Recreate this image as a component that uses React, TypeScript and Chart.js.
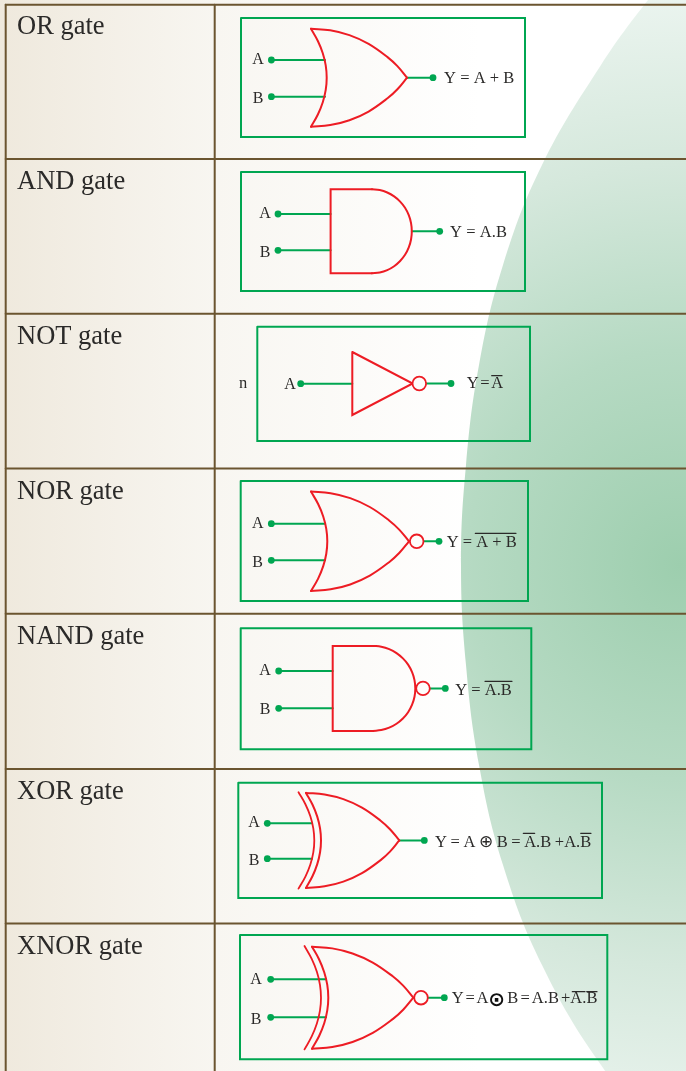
import React, { useEffect, useRef } from "react";
import { Chart, registerables } from "chart.js";

Chart.register(...registerables);

const W = 686;
const H = 1071;

// row titles
const GATE_NAMES = ["OR gate", "AND gate", "NOT gate", "NOR gate", "NAND gate", "XOR gate", "XNOR gate"];
const NAME_BASE = [34, 188.5, 343.5, 498.5, 643.5, 798.5, 953.5];

// table rules
const RULE_Y = [4.7, 159, 313.7, 468.5, 613.7, 769, 923.5];
const RULE_X = [5.7, 214.7];

// diagram boxes
const BOX_L = [241, 241, 257.3, 240.7, 240.7, 238.3, 240];
const BOX_R = [525, 525, 530, 528, 531.3, 602, 607.3];
const BOX_T = [18, 172, 326.7, 481, 628.3, 782.7, 935];
const BOX_B = [137, 291, 441, 601, 749.3, 898, 1059.3];

// gate bodies
const BODY_L = [311, 330.6, 352.3, 311, 332.7, 306, 312];
const BODY_R = [407, 411.8, 412.7, 409, 415.3, 399.3, 413.3];
const MID = [77.7, 231.3, 383.5, 541.3, 688.4, 840.4, 997.7];
const HALF = [49, 42, 31.5, 49.7, 42.5, 47.5, 51];
const FLAT_END = [null, 372, null, null, 373, null, null];
const INNER_DEPTH = [15.7, null, null, 16.3, null, 15, 16.3];
const BACK_L = [null, null, null, null, null, 298.5, 304.5];
const BACK_DEPTH = [null, null, null, null, null, 15.8, 16.5];
const BUBBLE_X = [null, null, 419.3, 416.7, 423, null, 421];

// wires
const IN_DOT_X = [271.4, 278, 300.7, 271.3, 278.7, 267.3, 270.7];
const IN_A_Y = [60, 214, 383.7, 523.7, 671, 823.3, 979.3];
const IN_B_Y = [96.7, 250.3, null, 560.3, 708.3, 858.7, 1017.3];
const IN_END = [325, 330.6, 352.3, 325, 332.7, 312, 326];
const OUT_DOT_X = [433, 439.7, 451, 439, 445.3, 424.3, 444.3];

// curve profiles (upper half, mirrored for lower half)
const OR_OUTER_U = [0, 0.2, 0.4, 0.6, 0.8, 0.9, 1];
const OR_OUTER_V = [0, 0.033, 0.132, 0.31, 0.585, 0.764, 1];
const OR_INNER_U = [0, 0.4375, 0.75, 0.9375, 1];
const OR_INNER_V = [0, 0.25, 0.5, 0.75, 1];
const AND_ARC_U = [0, 0.195, 0.383, 0.556, 0.707, 0.83, 0.924, 0.981, 1];
const AND_ARC_V = [0, 0.019, 0.076, 0.169, 0.293, 0.44, 0.617, 0.805, 1];

// input letters
const INPUT_LABEL_X = [258, 265, 290, 257.7, 265, 254, 256];
const A_BASE = [64, 218, 389, 527.7, 675, 827.3, 984];
const B_BASE = [102.7, 256.7, null, 566.7, 714, 865, 1024];

// output formulae
const OUT_TEXT = ["Y = A + B", "Y = A.B", "Y = A", "Y = A + B", "Y = A.B", "Y = A ⊕ B = A.B +A.B", "Y = A", "⊙", "B = A.B +A.B", "n"];
const OUT_X = [444, 450, 466.7, 446.7, 455.3, 435, 451.7, 488.3, 507.3, 239];
const OUT_BASE = [83.3, 237.3, 388, 547.3, 695, 846.7, 1003.3, 1006, 1003.3, 387.7];
const OUT_WORD = [0.1, 0.2, -2.5, 0, 0, -0.5, -2.3, 0, -2, 0];

// overbars
const OVER_X0 = [491.7, 475.3, 485, 523.3, 580.7, 572.3, 586.7];
const OVER_X1 = [502, 516, 512, 534.7, 591, 585, 597];
const OVER_Y = [375.7, 533.3, 681.3, 833.3, 833.3, 991.7, 991.7];

// green disc outline
const DISC_X = [760, 648, 601, 542, 503, 479, 466, 461, 466, 479, 503, 542, 601, 700, 900, 900];
const DISC_Y = [-140, 0, 65, 165, 265, 365, 465, 565, 665, 765, 865, 965, 1065, 1190, 1300, -300];

const GREEN = "#00a651";
const RED = "#ed1c24";
const RULE = "#6b5530";
const INK = "#2b2a29";

type P = { x: number; y: number };
const zip = (xs: number[], ys: number[]): P[] => xs.map((x, i) => ({ x, y: ys[i] }));

function line(data: P[], color: string, width: number, order: number, tension = 0) {
  return {
    data,
    showLine: true,
    borderColor: color,
    borderWidth: width,
    pointRadius: 0,
    tension,
    order,
    clip: false,
    borderCapStyle: "round",
    borderJoinStyle: "miter",
    fill: false,
  };
}

function profile(x0: number, mid: number, half: number, width: number, us: number[], vs: number[], sign: number): P[] {
  return us.map((u, i) => ({ x: x0 + u * width, y: mid + sign * (half - vs[i] * half) }));
}

function mirrored(x0: number, mid: number, half: number, width: number, us: number[], vs: number[]): P[] {
  const top = profile(x0, mid, half, width, us, vs, -1);
  const bottom = profile(x0, mid, half, width, us, vs, 1).reverse();
  return [...top, ...bottom.slice(1)];
}

function buildDatasets(): any[] {
  const ds: any[] = [];

  ds.push({
    data: zip(DISC_X, DISC_Y),
    showLine: true,
    borderWidth: 0,
    borderColor: "rgba(0,0,0,0)",
    pointRadius: 0,
    tension: 0.4,
    order: 20,
    fill: "shape",
    clip: false,
    backgroundColor: (c: any) => {
      const g = c.chart.ctx.createRadialGradient(680, 565, 0, 680, 565, 580);
      g.addColorStop(0, "#9dceae");
      g.addColorStop(0.37, "#b6dac3");
      g.addColorStop(0.69, "#d5e8dc");
      g.addColorStop(1, "#ecf5f0");
      return g;
    },
  });

  RULE_Y.forEach((y) => ds.push(line([{ x: RULE_X[0], y }, { x: W + 2, y }], RULE, 2, 15)));
  RULE_X.forEach((x) => ds.push(line([{ x, y: RULE_Y[0] }, { x, y: H + 2 }], RULE, 2, 15)));

  GATE_NAMES.forEach((_, i) => {
    const l = BOX_L[i], r = BOX_R[i], t = BOX_T[i], b = BOX_B[i];
    ds.push(line([{ x: l, y: t }, { x: r, y: t }, { x: r, y: b }, { x: l, y: b }, { x: l, y: t }], GREEN, 2, 10));

    const outStart = BUBBLE_X[i] != null ? (BUBBLE_X[i] as number) + 7 : BODY_R[i];
    ds.push(line([{ x: IN_DOT_X[i], y: IN_A_Y[i] }, { x: IN_END[i], y: IN_A_Y[i] }], GREEN, 2, 8));
    const dots: P[] = [{ x: IN_DOT_X[i], y: IN_A_Y[i] }, { x: OUT_DOT_X[i], y: MID[i] }];
    if (IN_B_Y[i] != null) {
      ds.push(line([{ x: IN_DOT_X[i], y: IN_B_Y[i] as number }, { x: IN_END[i], y: IN_B_Y[i] as number }], GREEN, 2, 8));
      dots.push({ x: IN_DOT_X[i], y: IN_B_Y[i] as number });
    }
    ds.push(line([{ x: outStart, y: MID[i] }, { x: OUT_DOT_X[i], y: MID[i] }], GREEN, 2, 8));
    ds.push({ data: dots, showLine: false, pointRadius: 3.4, pointBackgroundColor: GREEN, pointBorderWidth: 0, order: 2, clip: false });

    const L = BODY_L[i], R = BODY_R[i], m = MID[i], h = HALF[i];
    if (FLAT_END[i] != null) {
      const e = FLAT_END[i] as number;
      ds.push(line([{ x: e, y: m - h }, { x: L, y: m - h }, { x: L, y: m + h }, { x: e, y: m + h }], RED, 2, 5));
      ds.push(line(mirrored(e, m, h, R - e, AND_ARC_U, AND_ARC_V), RED, 2, 5, 0.4));
    } else if (INNER_DEPTH[i] != null) {
      ds.push(line(profile(L, m, h, R - L, OR_OUTER_U, OR_OUTER_V, -1), RED, 2, 5, 0.4));
      ds.push(line(profile(L, m, h, R - L, OR_OUTER_U, OR_OUTER_V, 1), RED, 2, 5, 0.4));
      ds.push(line(mirrored(L, m, h, INNER_DEPTH[i] as number, OR_INNER_U, OR_INNER_V), RED, 2, 5, 0.4));
      if (BACK_L[i] != null) {
        ds.push(line(mirrored(BACK_L[i] as number, m, h + 0.7, BACK_DEPTH[i] as number, OR_INNER_U, OR_INNER_V), RED, 1.8, 5, 0.4));
      }
    } else {
      ds.push(line([{ x: L, y: m - h }, { x: R, y: m }, { x: L, y: m + h }, { x: L, y: m - h }], RED, 2, 5));
    }
    if (BUBBLE_X[i] != null) {
      ds.push({
        data: [{ x: BUBBLE_X[i] as number, y: m }],
        showLine: false,
        pointRadius: 6.8,
        pointBackgroundColor: "#fefdfb",
        pointBorderColor: RED,
        pointBorderWidth: 1.8,
        order: 3,
        clip: false,
      });
    }
  });

  OVER_X0.forEach((x0, i) => ds.push(line([{ x: x0, y: OVER_Y[i] }, { x: OVER_X1[i], y: OVER_Y[i] }], INK, 1.2, 4)));
  return ds;
}

const paper = {
  id: "paper",
  beforeDraw(chart: any) {
    const { ctx } = chart;
    const g = ctx.createLinearGradient(0, 0, 480, 0);
    g.addColorStop(0, "#efe9dd");
    g.addColorStop(0.45, "#f8f6f1");
    g.addColorStop(1, "#ffffff");
    ctx.save();
    ctx.fillStyle = g;
    ctx.fillRect(0, 0, W, H);
    ctx.restore();
  },
};

const writing = {
  id: "writing",
  afterDraw(chart: any) {
    const { ctx, scales } = chart;
    const px = (v: number) => scales.x.getPixelForValue(v);
    const py = (v: number) => scales.y.getPixelForValue(v);
    ctx.save();
    ctx.fillStyle = INK;
    ctx.textBaseline = "alphabetic";
    ctx.font = '26.5px "Liberation Serif"';
    ctx.textAlign = "left";
    GATE_NAMES.forEach((n, i) => ctx.fillText(n, px(17), py(NAME_BASE[i])));
    ctx.font = '16px "Liberation Serif"';
    ctx.textAlign = "center";
    INPUT_LABEL_X.forEach((x, i) => {
      ctx.fillText("A", px(x), py(A_BASE[i]));
      if (B_BASE[i] != null) ctx.fillText("B", px(x), py(B_BASE[i] as number));
    });
    ctx.textAlign = "left";
    OUT_TEXT.forEach((t, i) => {
      ctx.wordSpacing = `${OUT_WORD[i]}px`;
      ctx.font = t === "⊙" ? 'bold 20px "DejaVu Sans"' : '16.5px "Liberation Serif"';
      ctx.fillStyle = t === "⊙" ? "#111" : INK;
      ctx.fillText(t, px(OUT_X[i]), py(OUT_BASE[i]));
    });
    ctx.restore();
  },
};

export default function App() {
  const ref = useRef<HTMLCanvasElement>(null);
  useEffect(() => {
    if (!ref.current) return;
    const chart = new Chart(ref.current, {
      type: "scatter",
      data: { datasets: buildDatasets() },
      options: {
        animation: false,
        responsive: false,
        events: [],
        layout: { padding: 0, autoPadding: false },
        plugins: { legend: { display: false }, tooltip: { enabled: false }, title: { display: false } },
        scales: {
          x: { type: "linear", min: 0, max: W, display: false },
          y: { type: "linear", min: 0, max: H, reverse: true, display: false },
        },
      },
      plugins: [paper, writing],
    } as any);
    return () => chart.destroy();
  }, []);
  return (
    <div style={{ position: "absolute", left: 0, top: 0, width: W, height: H }}>
      <canvas ref={ref} width={W} height={H} style={{ display: "block", width: W, height: H }} />
    </div>
  );
}
